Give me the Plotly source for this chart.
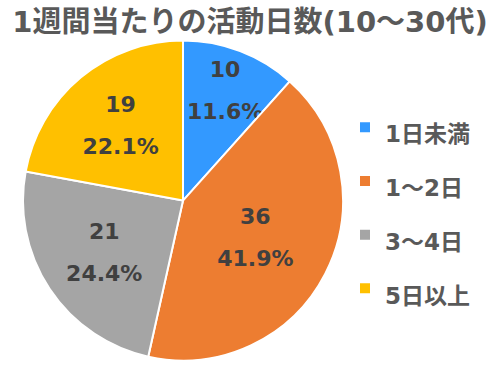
import plotly.graph_objects as go

categories = ["1日未満", "1～2日", "3～4日", "5日以上"]
values = [10, 36, 21, 19]
colors = ["#3399FF", "#ED7D31", "#A5A5A5", "#FFC000"]
title_text = "1週間当たりの活動日数(10～30代)"

FONT = "DejaVu Sans, Noto Sans CJK JP, sans-serif"

legend_labels = [f"<span style='font-size:23px'><b>{c}</b></span>" for c in categories]

fig = go.Figure(go.Pie(
    labels=legend_labels,
    values=values,
    sort=False,
    direction="clockwise",
    rotation=0,
    marker=dict(colors=colors, line=dict(color="white", width=2)),
    texttemplate="<span style='font-size:22px'><b>%{value}</b></span><br><span style='font-size:22px'><b>%{percent:.1%}</b></span>",
    textposition="inside",
    insidetextorientation="horizontal",
    textfont=dict(family=FONT, size=32, color="#404040"),
    domain=dict(x=[0.046, 0.686], y=[0.01, 0.894]),
    hoverinfo="skip",
))

fig.update_layout(
    width=500, height=366,
    margin=dict(l=0, r=0, t=0, b=0, autoexpand=False),
    paper_bgcolor="white",
    title=dict(text=f"<b>{title_text}</b>", x=0.5, xanchor="center", y=0.94, yanchor="middle",
               font=dict(family=FONT, size=29, color="#595959")),
    legend=dict(x=0.69, y=0.432, xanchor="left", yanchor="middle",
                font=dict(family=FONT, size=39, color="#595959"),
                bgcolor="rgba(0,0,0,0)"),
    uniformtext=dict(minsize=32, mode="show"),
)

fig.write_html("out.html", config={"displayModeBar": False},
               post_script="document.body.style.margin='0px';")
